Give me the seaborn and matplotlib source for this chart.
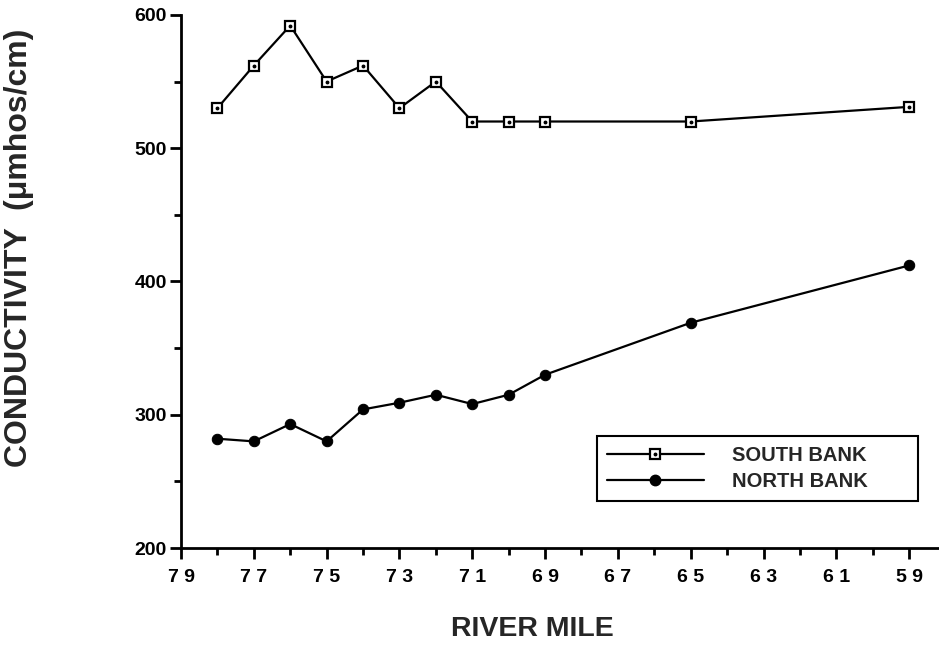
import matplotlib
matplotlib.use("Agg")
import matplotlib.pyplot as plt
import seaborn as sns
import pandas as pd
from matplotlib.lines import Line2D
from matplotlib.legend_handler import HandlerTuple
from matplotlib.ticker import MultipleLocator

# data
river_mile = [78, 77, 76, 75, 74, 73, 72, 71, 70, 69, 65, 59]
south_bank = [530, 562, 592, 550, 562, 530, 550, 520, 520, 520, 520, 531]
north_bank = [282, 280, 293, 280, 304, 309, 315, 308, 315, 330, 369, 412]
x_ticks = [79, 77, 75, 73, 71, 69, 67, 65, 63, 61, 59]

df = pd.DataFrame({"mile": river_mile, "south": south_bank, "north": north_bank})

sns.set_theme(style="ticks")
plt.rcParams["font.family"] = ["Liberation Sans", "DejaVu Sans"]
plt.rcParams["font.weight"] = "bold"

fig = plt.figure(figsize=(9.39, 6.47), dpi=100)
ax = fig.add_axes([181 / 939, 0.153, 758 / 939, 0.824])

sns.lineplot(data=df, x="mile", y="south", ax=ax, color="black", lw=1.6,
             marker="s", markersize=6.5, markerfacecolor="white",
             markeredgecolor="black", markeredgewidth=1.6)
ax.plot(df["mile"], df["south"], ls="none", marker="o", ms=1.8, color="black")
sns.lineplot(data=df, x="mile", y="north", ax=ax, color="black", lw=1.6,
             marker="o", markersize=7.5, markeredgecolor="black")

ax.set_xlim(79, 58.18)
ax.set_ylim(200, 600)
ax.set_xticks(x_ticks)
ax.set_xticklabels([" ".join(str(t)) for t in x_ticks])
ax.xaxis.set_minor_locator(MultipleLocator(1))
ax.set_yticks([200, 300, 400, 500, 600])
ax.yaxis.set_minor_locator(MultipleLocator(50))

for s in ["top", "right"]:
    ax.spines[s].set_visible(False)
for s in ["left", "bottom"]:
    ax.spines[s].set_linewidth(2)
    ax.spines[s].set_color("black")

ax.tick_params(axis="both", which="major", length=8, width=2, color="black",
               labelsize=14, labelcolor="black", pad=7)
ax.tick_params(axis="both", which="minor", length=5, width=2, color="black")
ax.tick_params(axis="y", pad=2)
for lab in ax.get_xticklabels() + ax.get_yticklabels():
    lab.set_fontweight("bold")

ax.set_xlabel("")
ax.set_ylabel("")
fig.text(532 / 939, 1 - 629 / 647, "RIVER MILE", ha="center", va="center",
         fontsize=20.5, fontweight="bold")
fig.text(19 / 939, 1 - 248 / 647, "CONDUCTIVITY  (\u03bcmhos/cm)", ha="center",
         va="center", rotation=90, fontsize=23, fontweight="bold")

h_south_line = Line2D([], [], color="black", lw=1.6, marker="s", ms=6.5,
                      mfc="white", mec="black", mew=1.6)
h_south_dot = Line2D([], [], ls="none", marker="o", ms=1.8, color="black")
h_north = Line2D([], [], color="black", lw=1.6, marker="o", ms=7.5)
leg = ax.legend([(h_south_line, h_south_dot), h_north],
                ["SOUTH BANK", "NORTH BANK"],
                handler_map={tuple: HandlerTuple(ndivide=1)},
                loc="lower left", bbox_to_anchor=(597 / 939, 1 - 501 / 647,
                                                  321 / 939, 67 / 647),
                bbox_transform=fig.transFigure, mode="expand",
                fancybox=False, framealpha=1, edgecolor="black",
                prop={"size": 14.5, "weight": "bold"}, handlelength=4.8,
                handletextpad=1.4, borderaxespad=0, labelspacing=0.35,
                borderpad=0.5)
leg.get_frame().set_linewidth(1.5)

plt.savefig("out.png", dpi=100)
